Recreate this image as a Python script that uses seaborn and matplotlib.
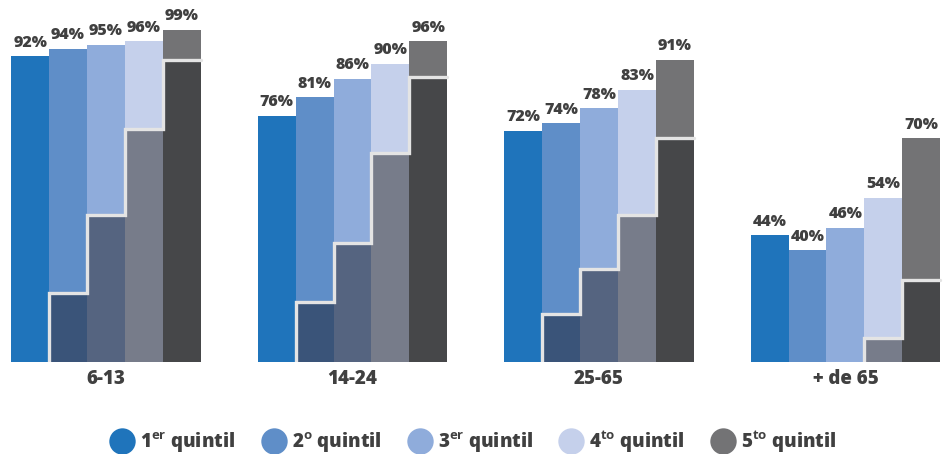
import numpy as np
import pandas as pd
import matplotlib
matplotlib.use('Agg')
import matplotlib.pyplot as plt
from matplotlib.lines import Line2D
import seaborn as sns

groups = ['6-13', '14-24', '25-65', '+ de 65']
quintiles = ['q1', 'q2', 'q3', 'q4', 'q5']
legend_labels = [r'1$^{\mathbf{er}}$ quintil', r'2$^{\mathbf{o}}$ quintil',
                 r'3$^{\mathbf{er}}$ quintil', r'4$^{\mathbf{to}}$ quintil',
                 r'5$^{\mathbf{to}}$ quintil']

# total share per quintile (label on top of each bar)
q1 = [92, 76, 72, 44]
q2 = [94, 81, 74, 40]
q3 = [95, 86, 78, 46]
q4 = [96, 90, 83, 54]
q5 = [99, 96, 91, 70]

# darker lower part of each bar
d1 = [0, 0, 0, 0]
d2 = [28.5, 26, 23, 0]
d3 = [49.5, 42, 35, 0]
d4 = [72.5, 66, 49.5, 16.5]
d5 = [91, 86.5, 70, 32]

colors = ['#1f74bb', '#5f8ec8', '#8facdb', '#c5d0eb', '#737375']
dark_colors = ['#1f74bb', '#3a5479', '#556480', '#777c8a', '#464749']

totals = [q1, q2, q3, q4, q5]
darks = [d1, d2, d3, d4, d5]
df = pd.DataFrame([(g, q, totals[j][i], darks[j][i])
                   for j, q in enumerate(quintiles)
                   for i, g in enumerate(groups)],
                  columns=['grupo', 'quintil', 'total', 'dark'])

sns.set_style('white')
plt.rcParams['font.family'] = ['Open Sans', 'DejaVu Sans']
plt.rcParams['mathtext.fontset'] = 'custom'
plt.rcParams['mathtext.rm'] = 'Open Sans'
plt.rcParams['mathtext.bf'] = 'Open Sans:bold'

text_color = '#404040'

fig = plt.figure(figsize=(9.49, 4.54), dpi=100)
ax = fig.add_axes([0, 0.2026, 1, 0.7974])

sns.barplot(data=df, x='grupo', y='total', hue='quintil', order=groups,
            hue_order=quintiles, palette=colors, width=0.77, saturation=1,
            linewidth=0, legend=False, ax=ax)
sns.barplot(data=df, x='grupo', y='dark', hue='quintil', order=groups,
            hue_order=quintiles, palette=dark_colors, width=0.77, saturation=1,
            linewidth=0, legend=False, ax=ax)

main_bars = ax.containers[:5]
dark_bars = ax.containers[5:10]

# baseline of the value axis is not zero in the original
y0 = 10

# stepped line on top of the dark part
for i in range(len(groups)):
    xs, ys = [], []
    for j in range(5):
        r = dark_bars[j][i]
        h = r.get_height()
        if h <= 0:
            continue
        x0 = r.get_x()
        x1 = x0 + r.get_width()
        if not xs:
            xs.append(x0)
            ys.append(y0)
        xs += [x0, x1]
        ys += [h, h]
    ax.plot(xs, ys, color='#e4e4e4', lw=2.4, solid_joinstyle='miter', zorder=5)

for j, cont in enumerate(main_bars):
    ax.bar_label(cont, labels=[f'{v}%' for v in totals[j]], padding=4,
                 fontsize=11.5, fontweight='heavy', color=text_color)

ax.set_xlim(-0.43, 3.42)
ax.set_ylim(y0, 107.05)
ax.set_xlabel('')
ax.set_ylabel('')
ax.set_yticks([])
ax.tick_params(axis='x', length=0, pad=5)
for t in ax.get_xticklabels():
    t.set_fontsize(13.5)
    t.set_fontweight('heavy')
    t.set_color(text_color)
sns.despine(ax=ax, left=True, bottom=True)

handles = [Line2D([], [], marker='o', linestyle='', markersize=19,
                  markerfacecolor=c, markeredgewidth=0) for c in colors]
fig.legend(handles, legend_labels, loc='center', bbox_to_anchor=(0.5, 0.028),
           ncol=5, frameon=False, handletextpad=0.45, columnspacing=1.55,
           handlelength=1.0, prop={'weight': 'heavy', 'size': 13.5},
           labelcolor=text_color)

fig.savefig('out.png', dpi=100)
